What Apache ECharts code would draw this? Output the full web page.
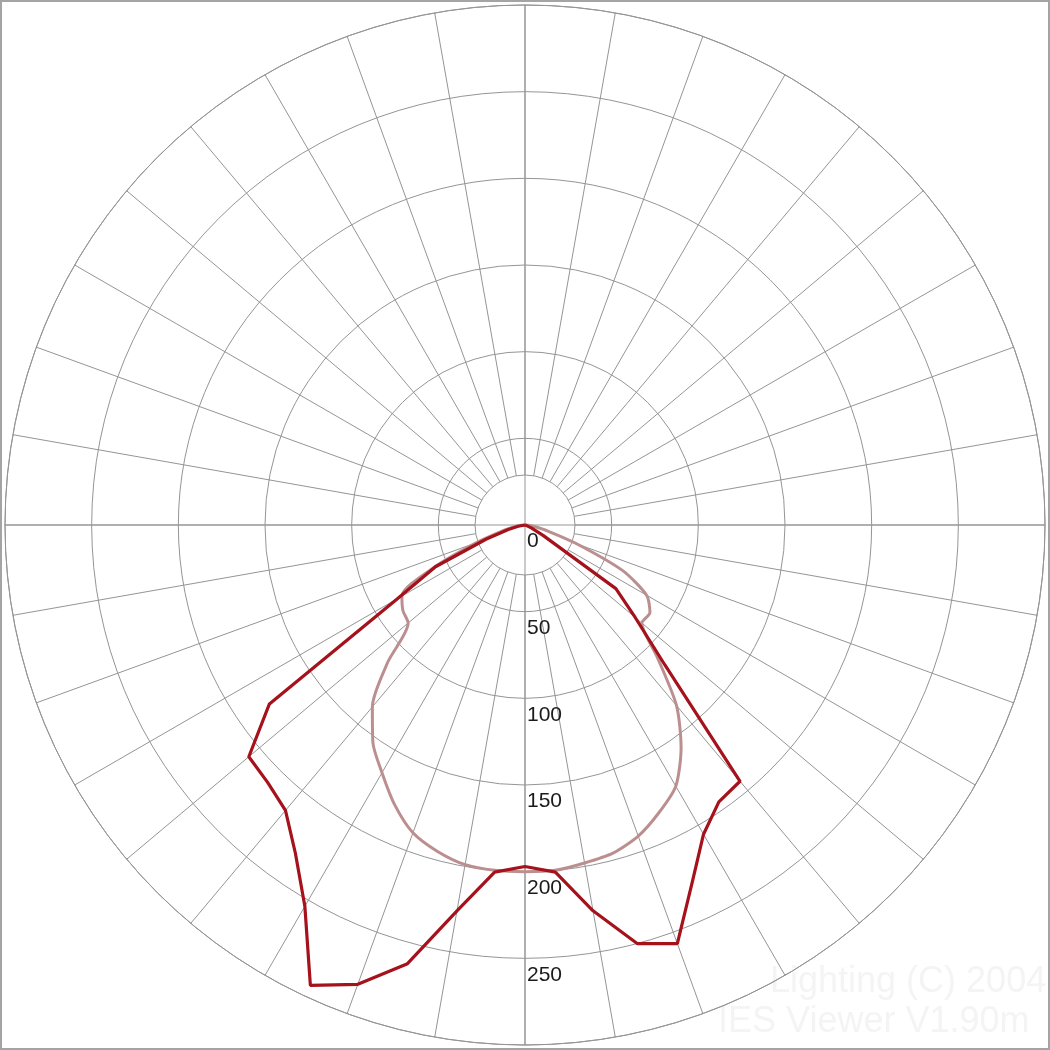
<!DOCTYPE html>
<html>
<head>
<meta charset="utf-8">
<script src="https://cdn.jsdelivr.net/npm/echarts/dist/echarts.min.js"></script>
<style>
  html, body { margin: 0; padding: 0; background: #fff; }
  #polar-chart {
    width: 1050px;
    height: 1050px;
    box-sizing: border-box;
    border: 2px solid #a4a4a4;
  }
</style>
</head>
<body>
<div id="polar-chart"></div>
<script>
// gamma angles (deg from nadir), 5 deg steps
var angles = [0, 5, 10, 15, 20, 25, 30, 35, 40, 45, 50, 55, 60, 65, 70, 75, 80, 85, 90];
// C0 - C180 plane (dark red), cd/klm
var c0Right = [197, 201, 226, 250, 257, 228, 206, 195, 193, 114, 83, 64, 12, 4, 1, 0, 0, 0, 0];
var c180Left = [197, 201, 226, 262, 282, 293, 254, 231, 215, 210, 208, 180, 85, 57, 24, 10, 4, 1, 0];
// C90 - C270 plane (light)
var c90Right = [200, 200, 198, 196, 191, 183, 174, 157, 136, 108, 88, 88, 81, 62, 32, 14, 6, 2, 0];
var c270Left = [200, 200, 199, 195, 189, 178, 165, 153, 137, 112, 88, 86, 82, 58, 30, 14, 6, 2, 0];
// ring labels
var ringLabels = [0, 50, 100, 150, 200, 250];

var gridColor = "#959595";

function buildCurve(left, right) {
  var pts = [];
  for (var i = angles.length - 1; i > 0; i--) {
    pts.push([left[i], 360 - angles[i]]);
  }
  for (var j = 0; j < angles.length; j++) {
    pts.push([right[j], angles[j]]);
  }
  return pts;
}

var myChart = echarts.init(document.getElementById("polar-chart"));

var option = {
  backgroundColor: "#fff",
  animation: false,
  polar: [
    { center: ["50%", "50%"], radius: [0, 520] },
    { center: ["50%", "50%"], radius: [50, 520] }
  ],
  angleAxis: [
    {
      polarIndex: 0,
      type: "value",
      min: 0,
      max: 360,
      interval: 90,
      startAngle: 270,
      clockwise: false,
      axisLine: { show: false },
      axisTick: { show: false },
      axisLabel: { show: false },
      splitLine: { show: true, lineStyle: { color: gridColor, width: 1 } }
    },
    {
      polarIndex: 1,
      type: "value",
      min: 0,
      max: 360,
      interval: 10,
      startAngle: 270,
      clockwise: false,
      axisLine: { show: true, lineStyle: { color: gridColor, width: 1 } },
      axisTick: { show: false },
      axisLabel: { show: false },
      splitLine: { show: true, lineStyle: { color: gridColor, width: 1 } }
    }
  ],
  radiusAxis: [
    {
      polarIndex: 0,
      type: "value",
      min: 0,
      max: 300,
      interval: 50,
      axisLine: { show: false },
      axisTick: { show: false },
      axisLabel: {
        show: true,
        margin: 2,
        color: "#1a1a1a",
        fontFamily: "Liberation Sans",
        fontSize: 21,
        align: "left",
        verticalAlign: "top",
        padding: [6, 0, 0, 0],
        formatter: function(v) {
          return ringLabels.indexOf(v) > -1 ? String(v) : "";
        }
      },
      splitLine: { show: true, lineStyle: { color: gridColor, width: 1 } }
    },
    {
      polarIndex: 1,
      type: "value",
      min: 0,
      max: 300,
      show: false
    }
  ],
  graphic: [
    {
      type: "text",
      left: 768,
      top: 962,
      silent: true,
      style: { text: "Lighting (C) 2004", fill: "#f4f4f4", font: '36px "Liberation Sans"' }
    },
    {
      type: "text",
      left: 716,
      top: 1002,
      silent: true,
      style: { text: "IES Viewer V1.90m", fill: "#f4f4f4", font: '36px "Liberation Sans"' }
    }
  ],
  series: [
    {
      name: "C90-C270",
      type: "line",
      coordinateSystem: "polar",
      polarIndex: 0,
      data: buildCurve(c270Left, c90Right),
      symbol: "none",
      smooth: 0.25,
      lineStyle: { color: "#bb8f8f", width: 3 },
      z: 3
    },
    {
      name: "C0-C180",
      type: "line",
      coordinateSystem: "polar",
      polarIndex: 0,
      data: buildCurve(c180Left, c0Right),
      symbol: "none",
      lineStyle: { color: "#a5121b", width: 3.2 },
      z: 4
    }
  ]
};

myChart.setOption(option);
</script>
</body>
</html>
